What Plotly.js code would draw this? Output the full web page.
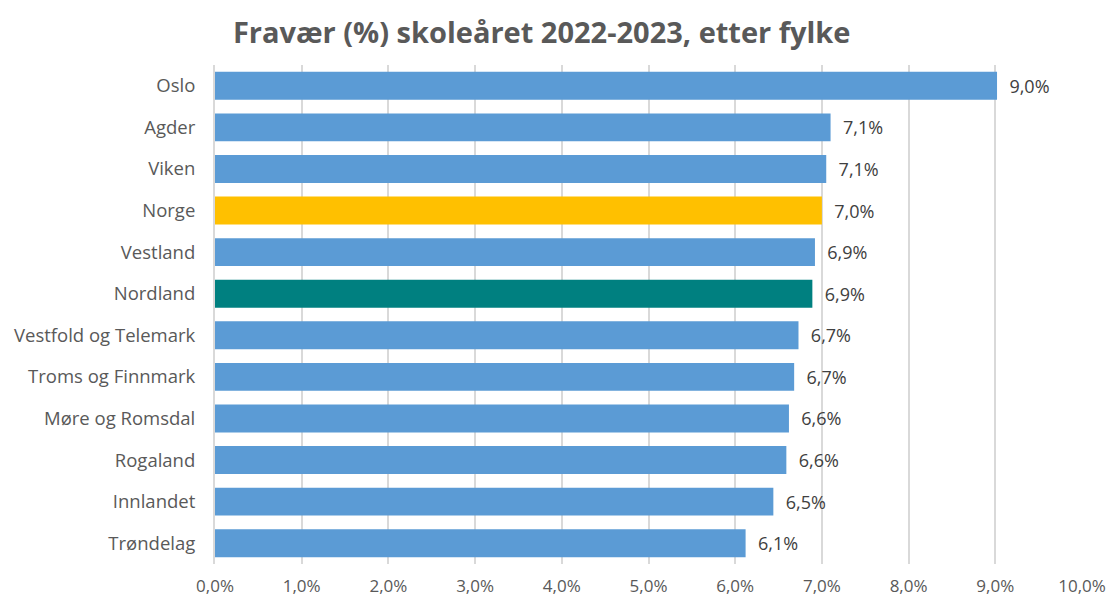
<!DOCTYPE html>
<html>
<head>
<meta charset="utf-8">
<script src="https://cdn.plot.ly/plotly-3.0.1.min.js"></script>
<style>html,body{margin:0;padding:0;background:#fff;}#chart{width:1110px;height:601px;}</style>
</head>
<body>
<div id="chart"></div>
<script>
const fylker = ["Oslo","Agder","Viken","Norge","Vestland","Nordland","Vestfold og Telemark","Troms og Finnmark","Møre og Romsdal","Rogaland","Innlandet","Trøndelag"];
const fravaer = [9.02, 7.10, 7.05, 7.00, 6.92, 6.89, 6.73, 6.68, 6.62, 6.59, 6.44, 6.12];
const etiketter = ["9,0%","7,1%","7,1%","7,0%","6,9%","6,9%","6,7%","6,7%","6,6%","6,6%","6,5%","6,1%"];
const farger = ["#5B9BD5","#5B9BD5","#5B9BD5","#FFC000","#5B9BD5","#008080","#5B9BD5","#5B9BD5","#5B9BD5","#5B9BD5","#5B9BD5","#5B9BD5"];
const tickVals = [0,1,2,3,4,5,6,7,8,9,10];
const tickText = ["0,0%","1,0%","2,0%","3,0%","4,0%","5,0%","6,0%","7,0%","8,0%","9,0%","10,0%"];

const trace = {
  type: "bar",
  orientation: "h",
  x: fravaer,
  y: fylker,
  marker: {color: farger},
  text: etiketter.map(t => "\u00a0\u00a0" + t),
  textposition: "outside",
  cliponaxis: false,
  textfont: {family: "Open Sans, sans-serif", size: 18, color: "#404040"},
  hoverinfo: "none"
};

const layout = {
  width: 1110, height: 601,
  margin: {l: 215, r: 28, t: 65, b: 37},
  paper_bgcolor: "#fff", plot_bgcolor: "#fff",
  showlegend: false,
  bargap: 0.33,
  title: {
    text: "<b>Fravær (%) skoleåret 2022-2023, etter fylke</b>",
    font: {family: "Open Sans, sans-serif", size: 29, color: "#595959"},
    x: 0.488, xref: "container", xanchor: "center",
    y: 0.945, yref: "container", yanchor: "middle"
  },
  xaxis: {
    range: [0, 10],
    tickvals: tickVals, ticktext: tickText,
    showgrid: true, gridcolor: "#D9D9D9", gridwidth: 2,
    zeroline: false, showline: false,
    ticks: "", ticklen: 0,
    ticklabelstandoff: 10,
    tickfont: {family: "Open Sans, sans-serif", size: 17, color: "#595959"},
    fixedrange: true
  },
  yaxis: {
    autorange: "reversed",
    showgrid: false, zeroline: false,
    showline: true, linecolor: "#D9D9D9", linewidth: 2,
    ticks: "", ticklen: 0,
    ticklabelstandoff: 14,
    tickfont: {family: "Open Sans, sans-serif", size: 18.5, color: "#595959"},
    fixedrange: true
  }
};

Plotly.newPlot("chart", [trace], layout, {displayModeBar: false, staticPlot: true});
</script>
</body>
</html>
